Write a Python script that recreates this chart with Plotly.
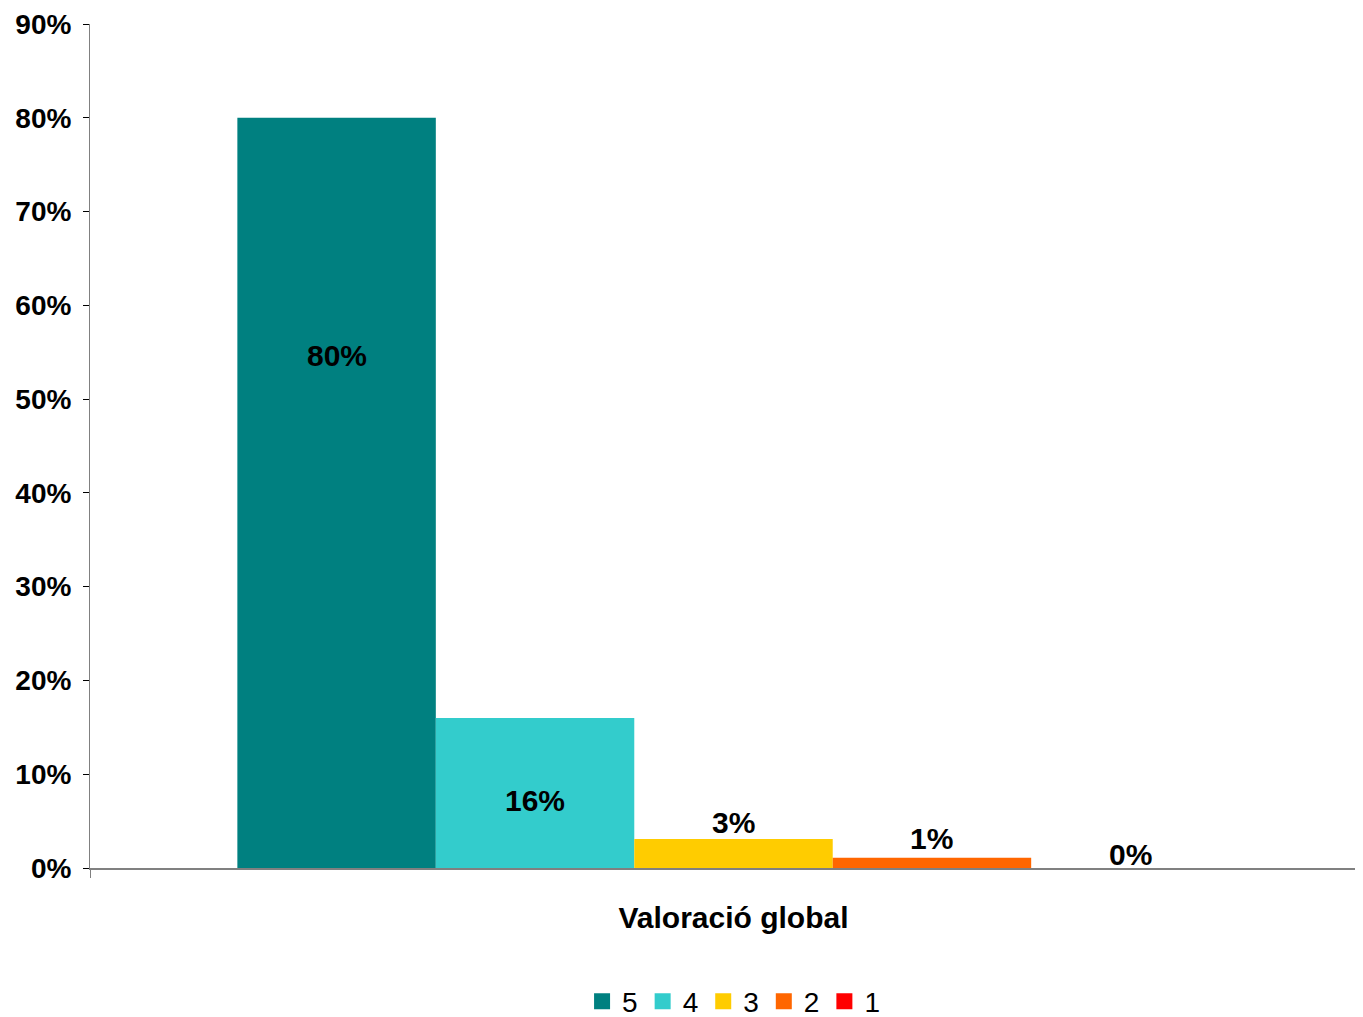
import plotly.graph_objects as go

CATEGORY = "Valoració global"
SERIES = ["5", "4", "3", "2", "1"]
VALUES = [0.80, 0.16, 0.031, 0.011, 0.0]
LABELS = ["80%", "16%", "3%", "1%", "0%"]
COLORS = ["#008080", "#33CCCC", "#FFCC00", "#FF6600", "#FF0000"]
# vertical position (data units) of each value label
LABEL_Y = [0.546, 0.072, 0.049, 0.031, 0.014]

BARGAP = 0.229
FONT = "Liberation Sans, Arial, sans-serif"

fig = go.Figure()
for name, v, c in zip(SERIES, VALUES, COLORS):
    fig.add_trace(go.Bar(x=[CATEGORY], y=[v], name=name, marker_color=c,
                         marker_line_width=0, showlegend=False))
for name, c in zip(SERIES, COLORS):
    fig.add_trace(go.Scatter(x=[None], y=[None], mode="markers", name=name,
                             marker=dict(symbol="square", size=22, color=c)))

n = len(SERIES)
w = (1 - BARGAP) / n
for i, (lab, ly) in enumerate(zip(LABELS, LABEL_Y)):
    fig.add_annotation(x=(i - (n - 1) / 2) * w, y=ly, xref="x", yref="y",
                       text=f"<b>{lab}</b>", showarrow=False,
                       font=dict(family=FONT, size=30, color="black"))

fig.update_layout(
    width=1369, height=1017,
    margin=dict(l=82, r=0, t=16, b=157),
    plot_bgcolor="white", paper_bgcolor="white",
    barmode="group", bargap=BARGAP, bargroupgap=0,
    font=dict(family=FONT, color="black"),
    legend=dict(orientation="h", x=0.53, xref="container", xanchor="center",
                y=0.023, yref="container", yanchor="middle",
                font=dict(size=28, family=FONT), itemsizing="trace",
                itemwidth=30, tracegroupgap=0),
)
fig.update_yaxes(range=[0, 0.9], dtick=0.1, tickformat=".0%",
                 showgrid=False, zeroline=False, automargin=False,
                 showline=True, linecolor="#808080", linewidth=1,
                 ticks="outside", ticklen=6, tickcolor="black",
                 ticklabelstandoff=6,
                 tickfont=dict(size=28, family=FONT, weight="bold"))
fig.update_xaxes(showgrid=False, showline=True, linecolor="#808080", linewidth=2,
                 automargin=False,
                 ticks="outside", tickson="boundaries", ticklen=8, tickcolor="#808080",
                 ticklabelstandoff=22,
                 tickfont=dict(size=30, family=FONT, weight="bold"))

fig.write_html("out.html")
